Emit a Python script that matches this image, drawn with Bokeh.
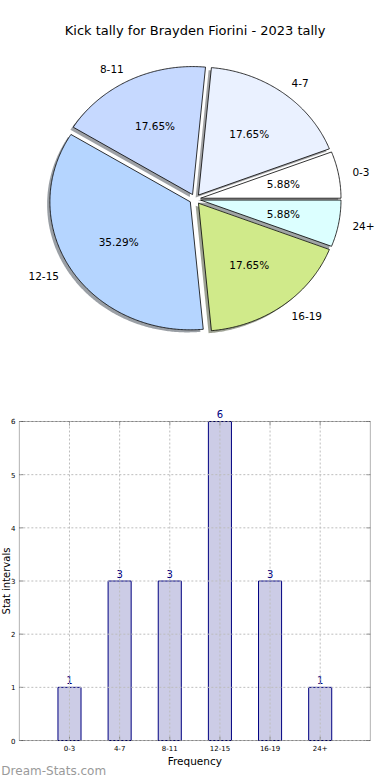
import numpy as np
from bokeh.plotting import figure
from bokeh.layouts import column
from bokeh.models import ColumnDataSource, BoxAnnotation
from bokeh.core.properties import value
from bokeh.embed import file_html
from bokeh.resources import INLINE

title = "Kick tally for Brayden Fiorini - 2023 tally"
categories = ["0-3", "4-7", "8-11", "12-15", "16-19", "24+"]
counts = [1, 3, 3, 6, 3, 1]
pie_colors = ["#ffffff", "#eaf1ff", "#c6d9ff", "#b5d5ff", "#d0ea8a", "#dcffff"]
y_ticks = [0, 1, 2, 3, 4, 5, 6]
x_label = "Frequency"
y_label = "Stat intervals"
watermark = "Dream-Stats.com"

FONT = value("DejaVu Sans")
EXPLODE = 0.04
SHADOW = 0.02

total = sum(counts)
fracs = np.array(counts, dtype=float) / total
bounds = np.concatenate([[0.0], np.cumsum(fracs)]) * 2 * np.pi


def shade(hexcol):
    h = hexcol.lstrip("#")
    r, g, b = (int(h[i:i + 2], 16) for i in (0, 2, 4))
    return "#%02x%02x%02x" % (int(r * 0.3), int(g * 0.3), int(b * 0.3))


# ---------------- pie ----------------
pie = figure(width=382, height=390, x_range=(-1.386, 1.335), y_range=(-1.495, 1.552),
             x_axis_location=None, y_axis_location=None,
             output_backend="svg", toolbar_location=None, min_border=0)
pie.grid.visible = False
pie.outline_line_color = None

wx, wy, sx, sy, shade_cols = [], [], [], [], []
lab_l = dict(x=[], y=[], t=[])
lab_r = dict(x=[], y=[], t=[])
pct = dict(x=[], y=[], t=[])
for i, cat in enumerate(categories):
    t1, t2 = bounds[i], bounds[i + 1]
    mid = 0.5 * (t1 + t2)
    ox, oy = EXPLODE * np.cos(mid), EXPLODE * np.sin(mid)
    n = max(int((t2 - t1) / 0.01), 3)
    th = np.linspace(t1, t2, n)
    xs = np.concatenate([[ox], ox + np.cos(th)])
    ys = np.concatenate([[oy], oy + np.sin(th)])
    wx.append(list(xs)); wy.append(list(ys))
    sx.append(list(xs - SHADOW)); sy.append(list(ys - SHADOW))
    shade_cols.append(shade(pie_colors[i]))
    lx = (EXPLODE + 1.1) * np.cos(mid)
    ly = (EXPLODE + 1.1) * np.sin(mid)
    d = lab_l if lx > 0 else lab_r
    d["x"].append(lx); d["y"].append(ly); d["t"].append(cat)
    pct["x"].append((EXPLODE + 0.6) * np.cos(mid))
    pct["y"].append((EXPLODE + 0.6) * np.sin(mid))
    pct["t"].append("%.2f%%" % (fracs[i] * 100))

pie.patches(xs=sx, ys=sy, fill_color=shade_cols, fill_alpha=0.5, line_color=None)
pie.patches(xs=wx, ys=wy, fill_color=pie_colors, line_color="black", line_width=0.8)
for src, al in ((lab_l, "left"), (lab_r, "right"), (pct, "center")):
    pie.text(x="x", y="y", text="t", source=ColumnDataSource(src), text_align=al,
             text_baseline="middle", text_font=FONT, text_font_size="10.5px", text_color="black")
pie.text(x=[0.0], y=[1.317], text=[title], text_align="center", text_baseline="middle",
         text_font=FONT, text_font_size="13px", text_color="black")

# ---------------- bars ----------------
idx = list(range(len(categories)))
PXX, PXY = 50.14, 53.17   # pixels per unit
X0, X1, Y0, Y1 = -1, 6, 0, 6   # axes box in data units
bar = figure(width=382, height=390, x_range=(-1.376, 6.2425), y_range=(-0.752, 6.583),
             x_axis_location=None, y_axis_location=None,
             output_backend="svg", toolbar_location=None, min_border=0)
bar.outline_line_color = None
bar.grid.visible = False

# dotted grid lines
n_x, n_y = len(idx), len(y_ticks)
bar.segment(x0=idx, x1=idx, y0=[Y0] * n_x, y1=[Y1] * n_x, line_color="#bdbdbd",
            line_dash="2 2", line_width=1, level="overlay")
bar.segment(x0=[X0] * n_y, x1=[X1] * n_y, y0=y_ticks, y1=y_ticks, line_color="#bdbdbd",
            line_dash="2 2", line_width=1, level="overlay")

bsrc = ColumnDataSource(dict(x=idx, top=counts, lab=[str(c) for c in counts]))
bar.vbar(x="x", top="top", width=0.46, source=bsrc, fill_color="#ccccE6", line_color="#000080",
         line_width=1)
bar.text(x="x", y="top", text="lab", source=bsrc, text_align="center", text_baseline="bottom",
         y_offset=-3, text_font=FONT, text_font_size="10px", text_color="#000080")

# axes box
bar.add_layout(BoxAnnotation(left=X0, right=X1, bottom=Y0, top=Y1, fill_alpha=0,
                             line_color="black", line_width=1, level="overlay"))
# inward tick marks on all four sides
tl_x, tl_y = 4 / PXX, 4 / PXY
bar.segment(x0=[X0] * n_y, x1=[X0 + tl_x] * n_y, y0=y_ticks, y1=y_ticks,
            line_color="#888888", line_width=1)
bar.segment(x0=[X1] * n_y, x1=[X1 - tl_x] * n_y, y0=y_ticks, y1=y_ticks,
            line_color="#888888", line_width=1)
bar.segment(x0=idx, x1=idx, y0=[Y0] * n_x, y1=[Y0 + tl_y] * n_x, line_color="#888888", line_width=1)
bar.segment(x0=idx, x1=idx, y0=[Y1] * n_x, y1=[Y1 - tl_y] * n_x, line_color="#888888", line_width=1)

# tick labels
bar.text(x=idx, y=[Y0] * n_x, text=categories, y_offset=4, text_align="center",
         text_baseline="top", text_font=FONT, text_font_size="7px", text_color="black")
bar.text(x=[X0] * n_y, y=y_ticks, text=[str(t) for t in y_ticks], x_offset=-4,
         text_align="right", text_baseline="middle", text_font=FONT, text_font_size="7px",
         text_color="black")
# axis labels + watermark
bar.text(x=[2.5], y=[-20 / PXY], text=[x_label], text_align="center", text_baseline="middle",
         text_font=FONT, text_font_size="10.5px", text_color="black")
bar.text(x=[X0 - 13 / PXX], y=[3.0], text=[y_label], text_align="center", text_baseline="middle",
         angle=np.pi / 2, text_font=FONT, text_font_size="10px", text_color="black")
bar.text(x=[X0 - 18 / PXX], y=[-30 / PXY], text=[watermark], text_align="left",
         text_baseline="middle", text_font=FONT, text_font_size="12px", text_color="#9a9a9a")

layout = column(pie, bar, spacing=0)
open("out.html", "w").write(file_html(layout, INLINE))
